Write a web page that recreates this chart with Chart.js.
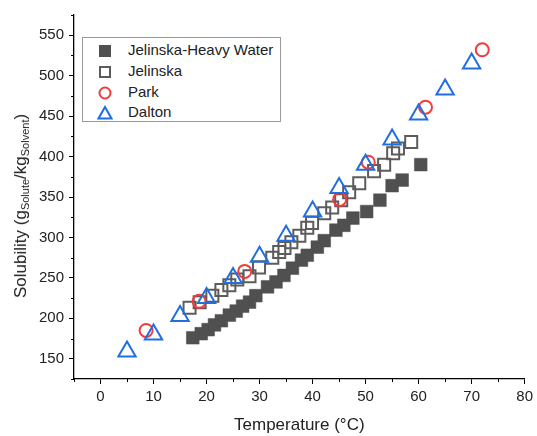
<!DOCTYPE html>
<html>
<head>
<meta charset="utf-8">
<script src="https://cdn.jsdelivr.net/npm/chart.js@4"></script>
<style>
  html, body { margin: 0; padding: 0; background: #fff; }
  #wrap { position: relative; width: 537px; height: 436px; font-family: "Liberation Sans", Arial, sans-serif; }
  #ytitle {
    position: absolute; left: 21px; top: 206px;
    transform: translate(-50%, -50%) rotate(-90deg);
    white-space: nowrap; font-size: 17px; color: #222;
  }
  #ytitle sub { font-size: 11px; vertical-align: -3px; }
  #legend {
    position: absolute; left: 82px; top: 37px; width: 199px; height: 85px;
    border: 1px solid #9a9a9a; box-sizing: border-box; background: #fff;
  }
  .row { position: absolute; left: 0; height: 20px; font-size: 15px; color: #222; }
  .row svg { position: absolute; left: 14px; top: 3px; }
  .row span { position: absolute; left: 45px; top: 1px; white-space: nowrap; }
</style>
</head>
<body>
<div id="wrap">
  <canvas id="chart" width="537" height="436"></canvas>
  <div id="ytitle">Solubility (g<sub>Solute</sub>/kg<sub>Solvent</sub>)</div>
  <div id="legend">
    <div class="row" style="top:2px"><svg width="16" height="16"><rect x="2" y="2" width="12" height="12" fill="#505050"/></svg><span>Jelinska-Heavy Water</span></div>
    <div class="row" style="top:23px"><svg width="16" height="16"><rect x="3" y="3" width="10" height="10" fill="none" stroke="#5c5c5c" stroke-width="2"/></svg><span>Jelinska</span></div>
    <div class="row" style="top:44px"><svg width="16" height="16"><circle cx="8" cy="8" r="5.5" fill="none" stroke="#f23b3b" stroke-width="2"/></svg><span>Park</span></div>
    <div class="row" style="top:64px"><svg width="16" height="16"><polygon points="8,2 14.5,13.5 1.5,13.5" fill="none" stroke="#1f6fe0" stroke-width="2"/></svg><span>Dalton</span></div>
  </div>
</div>
<script>
// Jelinska, heavy water (filled squares)
const heavyTemp = [17.4, 19.0, 20.3, 21.5, 22.8, 24.3, 25.6, 26.8, 28.1, 29.3, 31.5, 33.1, 34.6, 36.2, 37.9, 39.0, 40.9, 42.2, 44.4, 45.9, 47.6, 50.2, 52.7, 55.0, 56.9, 60.4];
const heavySol = [176, 181, 186, 192, 197, 204, 209, 215, 220, 228, 239, 245, 253, 262, 272, 278, 288, 296, 309, 315, 324, 332, 346, 364, 371, 390];

// Jelinska (open squares)
const jelTemp = [16.8, 18.7, 21.1, 22.8, 24.3, 25.8, 28.1, 29.9, 32.4, 33.7, 34.7, 36.0, 37.5, 39.0, 39.9, 42.2, 43.7, 45.4, 46.9, 48.8, 51.6, 53.5, 55.2, 56.1, 58.6];
const jelSol = [213, 220, 228, 235, 241, 248, 252, 263, 275, 282, 287, 294, 302, 312, 318, 330, 337, 346, 356, 367, 382, 390, 404, 410, 418];

// Park (circles)
const parkTemp = [8.6, 18.6, 27.2, 45.1, 50.5, 61.3, 72.0];
const parkSol = [185, 221, 258, 347, 393, 461, 532];

// Dalton (triangles)
const daltonTemp = [5, 10, 15, 20, 25, 30, 35, 40, 45, 50, 55, 60, 65, 70];
const daltonSol = [159, 180, 203, 225, 250, 276, 302, 332, 361, 390, 421, 452, 483, 515];

const xMajor = [0, 10, 20, 30, 40, 50, 60, 70, 80];
const yMajor = [150, 200, 250, 300, 350, 400, 450, 500, 550];

function points(xs, ys) {
  let out = [];
  for (let i = 0; i < xs.length; i++) {
    out.push({ x: xs[i], y: ys[i] });
  }
  return out;
}

// short ticks half way between the labelled ones
const minorTicks = {
  id: "minorTicks",
  afterDraw(chart) {
    let ctx = chart.ctx;
    let xs = chart.scales.x;
    let ys = chart.scales.y;
    ctx.save();
    ctx.strokeStyle = "#000";
    ctx.lineWidth = 1;
    ctx.beginPath();
    for (let v = -5; v < 80; v += 10) {
      let px = Math.round(xs.getPixelForValue(v)) + 0.5;
      ctx.moveTo(px, xs.top);
      ctx.lineTo(px, xs.top + 3);
    }
    for (let v = 125; v <= 575; v += 50) {
      let py = Math.round(ys.getPixelForValue(v)) + 0.5;
      ctx.moveTo(ys.right, py);
      ctx.lineTo(ys.right - 3, py);
    }
    ctx.stroke();
    ctx.restore();
  }
};

const FONT = { family: "'Liberation Sans', Arial, sans-serif", size: 15 };

new Chart(document.getElementById("chart"), {
  type: "scatter",
  data: {
    datasets: [
      {
        label: "Dalton", data: points(daltonTemp, daltonSol), order: 0,
        pointStyle: "triangle", pointRadius: 10, borderWidth: 2,
        borderColor: "#1f6fe0", backgroundColor: "rgba(0,0,0,0)"
      },
      {
        label: "Park", data: points(parkTemp, parkSol), order: 1,
        pointStyle: "circle", pointRadius: 6.5, borderWidth: 2,
        borderColor: "#f23b3b", backgroundColor: "rgba(0,0,0,0)"
      },
      {
        label: "Jelinska", data: points(jelTemp, jelSol), order: 2,
        pointStyle: "rect", pointRadius: 8.5, borderWidth: 2,
        borderColor: "#5c5c5c", backgroundColor: "rgba(0,0,0,0)"
      },
      {
        label: "Jelinska-Heavy Water", data: points(heavyTemp, heavySol), order: 3,
        pointStyle: "rect", pointRadius: 9, borderWidth: 0.5,
        borderColor: "#505050", backgroundColor: "#505050"
      }
    ]
  },
  options: {
    responsive: false,
    animation: false,
    events: [],
    layout: { padding: { left: 0, right: 11, top: 15, bottom: 0 } },
    plugins: { legend: { display: false }, tooltip: { enabled: false } },
    scales: {
      x: {
        type: "linear", min: -5, max: 80,
        afterBuildTicks: function (scale) {
          scale.ticks = xMajor.map(function (v) { return { value: v }; });
        },
        afterFit: function (scale) { scale.height = 57; },
        border: { display: true, color: "#000", width: 1.3 },
        grid: { drawOnChartArea: false, drawTicks: true, tickLength: 5, color: "#000" },
        ticks: { font: FONT, color: "#222", padding: 4, maxRotation: 0 },
        title: {
          display: true, text: "Temperature (°C)", color: "#222",
          font: { family: FONT.family, size: 17 }, padding: { top: 0, bottom: 0 }
        }
      },
      y: {
        type: "linear", min: 125, max: 575,
        afterBuildTicks: function (scale) {
          scale.ticks = yMajor.map(function (v) { return { value: v }; });
        },
        afterFit: function (scale) { scale.width = 74; },
        border: { display: true, color: "#000", width: 1.3 },
        grid: { drawOnChartArea: false, drawTicks: true, tickLength: 5, color: "#000" },
        ticks: { font: FONT, color: "#222", padding: 5 }
      }
    }
  },
  plugins: [minorTicks]
});
</script>
</body>
</html>
